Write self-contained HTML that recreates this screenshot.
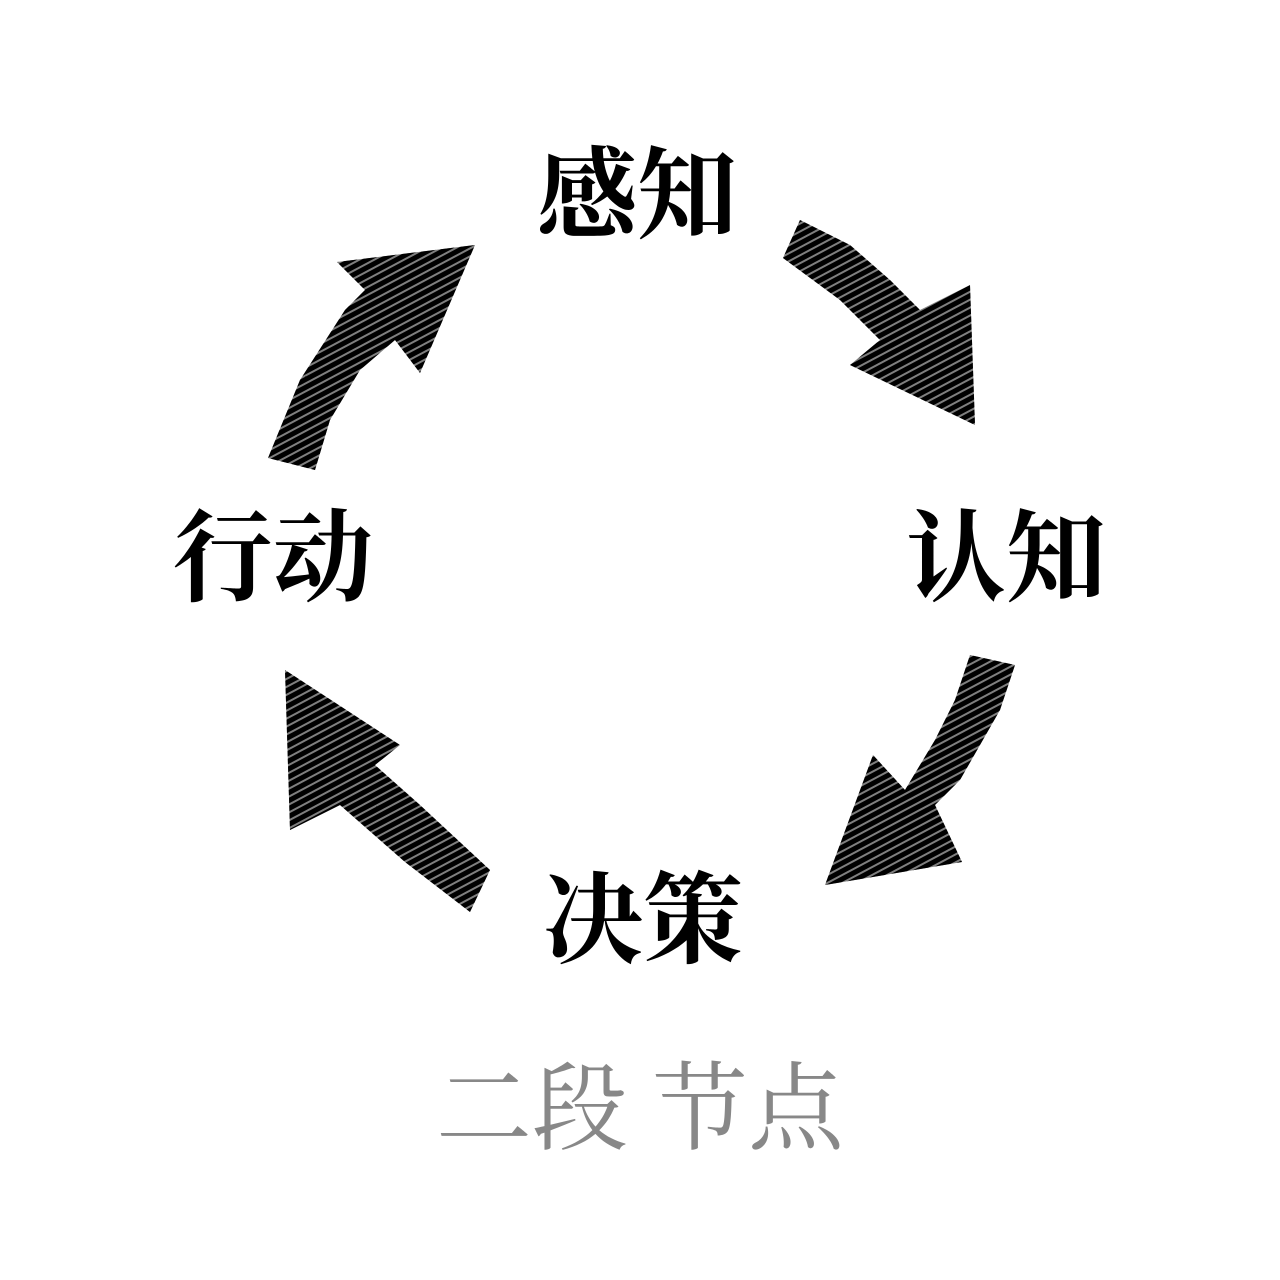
<!DOCTYPE html>
<html><head><meta charset="utf-8"><style>
html,body{margin:0;padding:0;background:#fff;}
body{width:1280px;height:1280px;position:relative;overflow:hidden;}
.t{position:absolute;font-family:"Liberation Serif","Noto Serif CJK SC",serif;font-weight:700;color:#000;font-size:100px;line-height:1;white-space:nowrap;transform:translate(-50%,-50%);}
.g{color:#888;font-weight:400;font-size:96px;}
</style></head><body>
<svg width="1280" height="1280" style="position:absolute;left:0;top:0">
<defs>
<pattern id="h" patternUnits="userSpaceOnUse" width="20" height="7" patternTransform="rotate(-28)">
<rect x="0" y="0" width="20" height="5" fill="#000"/>
</pattern>
</defs>
<g fill="url(#h)">
<polygon points="268,458 300,380 345,310 365,290 337,262 475,245 420,373 395,340 360,370 330,420 315,470"/>
<polygon points="800,220 850,245 890,280 920,310 970,285 975,425 850,365 880,340 840,300 783,258"/>
<polygon points="970,655 1015,665 1000,710 960,780 935,805 962,862 825,885 873,755 905,790 935,740 955,700"/>
<polygon points="285,670 400,745 375,765 420,805 490,870 470,912 405,862 340,805 290,830"/>
</g>
<g fill="#000" opacity="0.5">
<polygon points="268,458 300,380 345,310 365,290 337,262 475,245 420,373 395,340 360,370 330,420 315,470"/>
<polygon points="800,220 850,245 890,280 920,310 970,285 975,425 850,365 880,340 840,300 783,258"/>
<polygon points="970,655 1015,665 1000,710 960,780 935,805 962,862 825,885 873,755 905,790 935,740 955,700"/>
<polygon points="285,670 400,745 375,765 420,805 490,870 470,912 405,862 340,805 290,830"/>
</g>
</svg>
<div class="t" style="left:637px;top:197px">感知</div>
<div class="t" style="left:1006px;top:560px">认知</div>
<div class="t" style="left:273px;top:560px">行动</div>
<div class="t" style="left:643px;top:922px">决策</div>
<div class="t g" style="left:640px;top:1110px">二段 节点</div>
</body></html>
